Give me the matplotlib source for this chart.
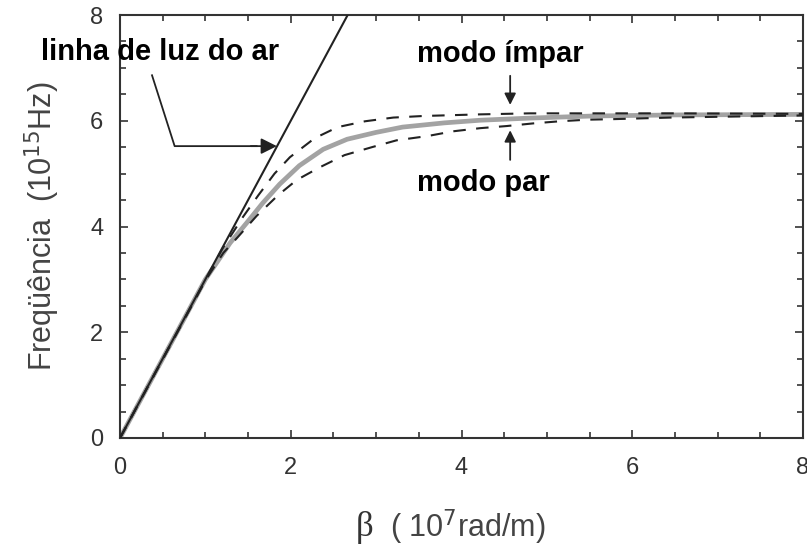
import numpy as np
import matplotlib.pyplot as plt
from matplotlib.ticker import MultipleLocator

# light line in air (omega = c * beta)
light_beta = [0.0, 3.0]
light_freq = [0.0, 9.0]

# surface plasmon (gray, solid)
spp_beta = [0.0, 1.0, 1.29, 1.49, 1.67, 1.87, 2.1, 2.38, 2.66, 3.0, 3.31, 3.8, 4.22,
            4.8, 5.54, 6.5, 8.0]
spp_freq = [0.0, 3.0, 3.69, 4.08, 4.44, 4.8, 5.15, 5.46, 5.65, 5.78, 5.88, 5.96, 6.01,
            6.05, 6.09, 6.11, 6.12]

# odd mode (upper dashed)
odd_beta = [0.0, 1.2, 1.44, 1.62, 1.81, 1.99, 2.28, 2.55, 2.87, 3.2, 3.55, 4.2, 4.8,
            6.5, 8.0]
odd_freq = [0.0, 3.58, 4.18, 4.59, 5.0, 5.31, 5.67, 5.88, 5.99, 6.06, 6.09, 6.12, 6.14,
            6.14, 6.13]

# even mode (lower dashed)
even_beta = [0.0, 1.0, 1.21, 1.38, 1.6, 1.85, 2.07, 2.34, 2.63, 2.95, 3.24, 3.6, 3.9,
             4.22, 4.53, 4.84, 5.15, 5.47, 5.77, 6.44, 7.2, 8.0]
even_freq = [0.0, 2.98, 3.5, 3.8, 4.2, 4.59, 4.88, 5.12, 5.35, 5.5, 5.63, 5.71, 5.8,
             5.86, 5.9, 5.95, 5.99, 6.02, 6.03, 6.06, 6.08, 6.1]

plt.rcParams['font.family'] = ['Liberation Sans', 'DejaVu Sans']

W, H = 807, 549
fig = plt.figure(figsize=(W / 100, H / 100), dpi=100)
ax = fig.add_axes([120 / W, 1 - 438 / H, 683 / W, 423 / H])

ax.plot(spp_beta, spp_freq, color='#a3a3a3', lw=3.4, zorder=2)
ax.plot(odd_beta, odd_freq, color='#222222', lw=1.5, dashes=(6, 5), zorder=3)
ax.plot(even_beta, even_freq, color='#222222', lw=1.5, dashes=(6, 5), zorder=3)
ax.plot(light_beta, light_freq, color='#222222', lw=1.5, zorder=4)

ax.set_xlim(0, 8)
ax.set_ylim(0, 8)
ax.xaxis.set_major_locator(MultipleLocator(2))
ax.yaxis.set_major_locator(MultipleLocator(2))
ax.xaxis.set_minor_locator(MultipleLocator(0.5))
ax.yaxis.set_minor_locator(MultipleLocator(0.5))
ax.tick_params(which='both', direction='in', top=True, right=True,
               color='#333333', width=1.2, labelsize=17, labelcolor='#333333')
ax.tick_params(which='major', length=6)
ax.tick_params(axis='x', which='major', pad=14)
ax.tick_params(axis='y', which='major', pad=12)
ax.tick_params(which='minor', length=4)
for s in ax.spines.values():
    s.set_color('#333333')
    s.set_linewidth(1.5)

# axis titles
fig.text(42 / W, 1 - 226 / H, r'Freqüência  (10$^{15}$Hz)', rotation=90,
         ha='center', va='center', fontsize=22, color='#444444')
fig.text(365 / W, 1 - 528 / H, 'β', ha='center', va='center', fontsize=25,
         color='#333333', family='Liberation Serif')
fig.text(390 / W, 1 - 527 / H, r'( 10$^{7}$rad/m)', ha='left', va='center',
         fontsize=22, color='#444444')

bold = dict(fontsize=21, fontweight='bold', color='black')
ax.text(-0.92, 7.3, 'linha de luz do ar', ha='left', va='center', clip_on=False, **bold)
ax.text(3.48, 7.27, 'modo ímpar', ha='left', va='center', **bold)
ax.text(3.48, 4.82, 'modo par', ha='left', va='center', **bold)

ax.plot([0.375, 0.64, 1.6], [6.86, 5.52, 5.52], color='#222222', lw=1.3)
ax.annotate('', xy=(1.87, 5.52), xytext=(1.5, 5.52),
            arrowprops=dict(arrowstyle='-|>', color='#222222', lw=1.3, mutation_scale=24))
ax.annotate('', xy=(4.57, 6.3), xytext=(4.57, 6.85),
            arrowprops=dict(arrowstyle='-|>', color='#222222', lw=1.3, mutation_scale=17,
                            shrinkA=0, shrinkB=0))
ax.annotate('', xy=(4.57, 5.82), xytext=(4.57, 5.26),
            arrowprops=dict(arrowstyle='-|>', color='#222222', lw=1.3, mutation_scale=17,
                            shrinkA=0, shrinkB=0))

fig.savefig('out.png', dpi=100)
